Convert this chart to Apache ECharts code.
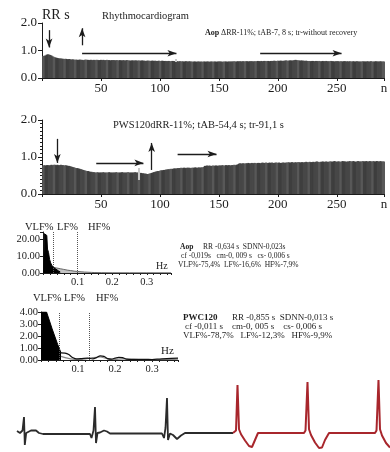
<!DOCTYPE html>
<html>
<head>
<meta charset="utf-8">
<script src="https://cdn.jsdelivr.net/npm/echarts@6/dist/echarts.min.js"></script>
<style>
  html, body { margin: 0; padding: 0; background: #fff; }
  #chart { width: 390px; height: 452px; }
</style>
</head>
<body>
<div id="chart"></div>
<script>
// RR intervals (s) per beat n, Aop test
const rrAop = [
  0.80,0.81,0.82,0.85,0.86,0.85,0.84,0.82,0.79,0.77,
  0.75,0.74,0.73,0.72,0.71,0.71,0.70,0.70,0.69,0.70,
  0.69,0.68,0.69,0.68,0.67,0.68,0.67,0.66,0.67,0.66,
  0.66,0.67,0.66,0.66,0.65,0.66,0.67,0.66,0.66,0.65,
  0.66,0.66,0.65,0.66,0.65,0.66,0.66,0.65,0.65,0.66,
  0.65,0.66,0.65,0.65,0.66,0.65,0.65,0.64,0.65,0.65,
  0.65,0.64,0.65,0.65,0.64,0.65,0.64,0.64,0.65,0.64,
  0.64,0.65,0.64,0.64,0.63,0.64,0.64,0.63,0.64,0.64,
  0.63,0.64,0.63,0.63,0.64,0.63,0.63,0.62,0.63,0.63,
  0.63,0.62,0.63,0.63,0.62,0.63,0.62,0.62,0.63,0.62,
  0.62,0.63,0.62,0.62,0.62,0.61,0.62,0.62,0.61,0.62,
  0.62,0.61,0.61,0.61,0.61,0.60,0.61,0.60,0.61,0.60,
  0.60,0.61,0.60,0.60,0.61,0.60,0.60,0.59,0.60,0.60,
  0.59,0.60,0.60,0.59,0.60,0.59,0.60,0.60,0.59,0.60,
  0.60,0.59,0.60,0.60,0.59,0.60,0.60,0.59,0.60,0.60,
  0.60,0.60,0.59,0.60,0.60,0.60,0.59,0.60,0.60,0.60,
  0.60,0.60,0.61,0.60,0.60,0.61,0.60,0.61,0.60,0.61,
  0.61,0.60,0.61,0.61,0.60,0.61,0.61,0.61,0.60,0.61,
  0.61,0.61,0.62,0.61,0.61,0.62,0.61,0.62,0.62,0.61,
  0.62,0.62,0.61,0.62,0.62,0.62,0.63,0.62,0.62,0.63,
  0.62,0.63,0.63,0.62,0.63,0.63,0.64,0.63,0.63,0.64,
  0.64,0.63,0.64,0.65,0.66,0.65,0.64,0.64,0.63,0.64,
  0.63,0.63,0.62,0.63,0.62,0.62,0.62,0.61,0.62,0.62,
  0.61,0.62,0.62,0.61,0.62,0.61,0.61,0.62,0.61,0.61,
  0.62,0.61,0.61,0.61,0.62,0.61,0.61,0.60,0.61,0.61,
  0.61,0.60,0.61,0.61,0.60,0.61,0.61,0.60,0.61,0.60,
  0.61,0.60,0.60,0.61,0.60,0.60,0.61,0.60,0.60,0.60,
  0.60,0.61,0.60,0.60,0.60,0.61,0.60,0.60,0.61,0.60,
  0.60,0.60,0.61,0.60,0.60,0.60,0.61,0.60,0.60,0.60
];

// RR intervals (s) per beat n, PWS120 test
const rrPws = [
  0.77,0.78,0.77,0.78,0.78,0.77,0.78,0.79,0.78,0.79,
  0.79,0.78,0.79,0.78,0.78,0.79,0.78,0.78,0.77,0.78,
  0.77,0.76,0.76,0.75,0.74,0.73,0.72,0.71,0.70,0.70,
  0.69,0.68,0.67,0.66,0.65,0.64,0.63,0.62,0.62,0.61,
  0.60,0.60,0.59,0.59,0.58,0.58,0.59,0.58,0.58,0.58,
  0.58,0.59,0.58,0.58,0.58,0.58,0.59,0.58,0.58,0.58,
  0.58,0.58,0.59,0.58,0.58,0.58,0.58,0.59,0.58,0.58,
  0.58,0.58,0.59,0.58,0.58,0.58,0.58,0.58,0.59,0.58,
  0.58,0.58,0.57,0.57,0.56,0.56,0.55,0.55,0.54,0.54,
  0.55,0.56,0.57,0.58,0.59,0.60,0.61,0.62,0.62,0.63,
  0.64,0.64,0.65,0.65,0.66,0.66,0.67,0.67,0.68,0.68,
  0.68,0.69,0.69,0.69,0.70,0.70,0.70,0.71,0.70,0.71,
  0.71,0.70,0.71,0.71,0.71,0.70,0.71,0.71,0.71,0.72,
  0.71,0.71,0.72,0.71,0.72,0.72,0.73,0.76,0.76,0.77,
  0.76,0.77,0.76,0.76,0.77,0.76,0.77,0.77,0.76,0.77,
  0.77,0.77,0.78,0.77,0.77,0.78,0.77,0.78,0.78,0.77,
  0.78,0.78,0.79,0.78,0.79,0.80,0.82,0.83,0.82,0.83,
  0.83,0.82,0.83,0.83,0.84,0.83,0.83,0.84,0.83,0.84,
  0.84,0.83,0.84,0.84,0.83,0.84,0.85,0.84,0.84,0.85,
  0.84,0.84,0.85,0.84,0.85,0.84,0.84,0.85,0.85,0.84,
  0.85,0.84,0.84,0.85,0.85,0.84,0.85,0.85,0.86,0.85,
  0.85,0.86,0.85,0.85,0.86,0.85,0.86,0.86,0.85,0.86,
  0.86,0.85,0.86,0.87,0.86,0.86,0.87,0.86,0.86,0.87,
  0.86,0.87,0.88,0.87,0.86,0.87,0.87,0.88,0.87,0.87,
  0.88,0.87,0.87,0.88,0.88,0.87,0.88,0.89,0.88,0.87,
  0.88,0.88,0.87,0.88,0.89,0.88,0.88,0.87,0.88,0.88,
  0.89,0.88,0.88,0.89,0.88,0.87,0.88,0.89,0.88,0.88,
  0.88,0.89,0.88,0.88,0.89,0.88,0.88,0.89,0.88,0.88,
  0.89,0.88,0.88,0.89,0.88,0.88,0.89,0.88,0.88,0.88
];

const rrTicksN = [50, 100, 150, 200, 250];

// Spectrum of the Aop test: [Hz, power]
const specAopVlf = [[0.002,0],[0.004,23],[0.008,24],[0.011,22],[0.013,14],[0.016,12],[0.019,8],[0.022,6],[0.026,4.2],[0.03,3.4],[0.035,2.6],[0.04,2.0],[0.045,1.2],[0.05,0.6]];
const specAopRest = [[0.03,3.3],[0.04,2.9],[0.05,2.5],[0.06,2.1],[0.07,1.7],[0.08,1.4],[0.09,1.1],[0.1,0.9],[0.11,0.7],[0.12,0.55],[0.13,0.45],[0.14,0.35],[0.15,0.25],[0.17,0.18],[0.2,0.12],[0.25,0.1],[0.3,0.1],[0.35,0.1],[0.37,0.1]];
const specAopBands = [0.03, 0.1];

// Spectrum of the PWS120 test: [Hz, power]
const specPwsVlf = [[0,4],[0.015,4],[0.03,2.6],[0.045,1.3],[0.054,0.6]];
const specPwsA = [[0.054,0.6],[0.065,0.58],[0.075,0.45],[0.085,0.2],[0.095,0.1],[0.11,0.12],[0.125,0.15],[0.14,0.1],[0.15,0.2],[0.16,0.35],[0.17,0.3],[0.18,0.12],[0.19,0.08],[0.2,0.15],[0.21,0.22],[0.22,0.2],[0.23,0.08],[0.25,0.05],[0.28,0.05],[0.3,0.04],[0.32,0.08],[0.34,0.12],[0.37,0.15]];
const specPwsB = [[0.054,0.3],[0.065,0.2],[0.08,0.1],[0.1,0.05],[0.12,0.1],[0.14,0.2],[0.16,0.25],[0.18,0.1],[0.2,0.05],[0.22,0.1],[0.25,0.05],[0.3,0.02],[0.35,0.05],[0.37,0.08]];
const specPwsBands = [0.054, 0.13];

// ECG strip: [t s, mV]
const ecgAop = [[0.17,0.08],[0.18,0],[0.2,0],[0.21,-0.06],[0.225,0.1],[0.24,0.64],[0.248,-0.48],[0.262,0],[0.28,0.02],[0.31,0.1],[0.33,0.12],[0.36,0.1],[0.39,0],[0.43,-0.04],[0.9,-0.04],[0.915,-0.2],[0.935,0.1],[0.95,1.04],[0.96,-0.4],[0.975,0],[1.0,0.02],[1.04,0.1],[1.07,0.06],[1.1,-0.02],[1.62,-0.02],[1.64,-0.2],[1.655,0.2],[1.67,1.4],[1.68,-0.28],[1.7,-0.02],[1.73,-0.08],[1.77,-0.24],[1.81,-0.1],[1.85,0],[2.33,0]];
const ecgPws = [[2.33,0],[2.35,0],[2.36,0.1],[2.375,1.92],[2.39,0.15],[2.41,-0.05],[2.45,-0.3],[2.49,-0.52],[2.52,-0.56],[2.55,-0.28],[2.58,0],[3.04,0],[3.055,0.1],[3.075,2.04],[3.09,0.15],[3.11,-0.08],[3.15,-0.38],[3.19,-0.6],[3.22,-0.58],[3.25,-0.28],[3.29,0],[3.75,0],[3.765,0.1],[3.785,2.12],[3.8,0.15],[3.82,-0.1],[3.86,-0.4],[3.9,-0.58]];

const serif = '"Liberation Serif", "DejaVu Serif", serif';
const ink = '#1c1c1c';

const chart = echarts.init(document.getElementById('chart'));

function rrX(gi) {
  return {
    type: 'value', gridIndex: gi, min: 0, max: 290, interval: 50,
    axisLine: { lineStyle: { color: ink, width: 1 } },
    axisTick: { show: true, length: 3, lineStyle: { color: ink } },
    splitLine: { show: false },
    axisLabel: {
      color: ink, fontFamily: serif, fontSize: 13, margin: 4,
      formatter: (v) => (v === 290 ? 'n' : (rrTicksN.indexOf(v) >= 0 ? String(v) : ''))
    }
  };
}
function rrY(gi, minor) {
  return {
    type: 'value', gridIndex: gi, min: 0, max: 2, interval: 1,
    axisLine: { show: true, lineStyle: { color: ink, width: 1 } },
    axisTick: { show: true, length: 4, lineStyle: { color: ink } },
    minorTick: { show: minor, splitNumber: 10, length: 2, lineStyle: { color: ink } },
    splitLine: { show: false },
    axisLabel: { color: ink, fontFamily: serif, fontSize: 13, margin: 5, formatter: (v) => v.toFixed(1) }
  };
}
function specX(gi) {
  return {
    type: 'value', gridIndex: gi, min: 0, max: 0.37, interval: 0.1,
    axisLine: { lineStyle: { color: ink, width: 1 } },
    axisTick: { show: true, length: 2, lineStyle: { color: ink } },
    minorTick: { show: true, splitNumber: 5, length: 2, lineStyle: { color: ink } },
    splitLine: { show: false },
    axisLabel: {
      color: ink, fontFamily: serif, fontSize: 10.5, margin: 4,
      formatter: (v) => (v > 0.05 && Math.abs(v * 10 - Math.round(v * 10)) < 1e-6 ? v.toFixed(1) : '')
    }
  };
}
function specY(gi, max, step) {
  return {
    type: 'value', gridIndex: gi, min: 0, max: max, interval: step,
    axisLine: { show: true, lineStyle: { color: ink, width: 1 } },
    axisTick: { show: true, length: 3, lineStyle: { color: ink } },
    splitLine: { show: false },
    axisLabel: {
      color: ink, fontFamily: serif, fontSize: 10.5, margin: 3,
      formatter: (v) => (Math.abs(v / step - Math.round(v / step)) < 1e-6 ? v.toFixed(2) : '')
    }
  };
}

function arrow(x1, y1, x2, y2) {
  return [{ coord: [x1, y1] }, { coord: [x2, y2] }];
}
const arrowStyle = {
  silent: true, symbol: ['none', 'arrow'], symbolSize: [5, 9],
  label: { show: false }, lineStyle: { color: ink, width: 1.3, type: 'solid' },
  emphasis: { disabled: true }
};

function barColor(p) {
  const k = p.dataIndex % 9;
  return k < 2 ? '#585858' : (k < 5 ? '#3e3e3e' : '#474747');
}

function txt(x, yc, text, size, weight) {
  return {
    type: 'text', x: x, y: yc, silent: true,
    style: {
      text: text, fill: ink, verticalAlign: 'middle', textVerticalAlign: 'middle',
      font: (weight || 'normal') + ' ' + size + 'px ' + serif
    }
  };
}

const option = {
  animation: false,
  backgroundColor: '#fff',
  grid: [
    { left: 42, top: 23, width: 342, height: 55, outerBoundsMode: 'none' },
    { left: 42, top: 120, width: 342, height: 74, outerBoundsMode: 'none' },
    { left: 43, top: 232, width: 128, height: 41, outerBoundsMode: 'none' },
    { left: 41, top: 312, width: 137, height: 48, outerBoundsMode: 'none' },
    { left: 0, top: 378, width: 390, height: 74, outerBoundsMode: 'none' }
  ],
  xAxis: [
    rrX(0), rrX(1), specX(2), specX(3),
    { type: 'value', gridIndex: 4, min: 0, max: 3.9, show: false }
  ],
  yAxis: [
    rrY(0, false), rrY(1, true), specY(2, 24, 10), specY(3, 4, 1),
    { type: 'value', gridIndex: 4, min: -0.76, max: 2.2, show: false }
  ],
  series: [
    {
      type: 'bar', xAxisIndex: 0, yAxisIndex: 0, barWidth: 2,
      data: rrAop.map((v, i) => [i + 1, v]),
      itemStyle: { color: barColor },
      markLine: Object.assign({}, arrowStyle, {
        data: [arrow(6, 1.74, 6, 1.11), arrow(34, 1.19, 34, 1.81), arrow(34, 0.9, 114, 0.9), arrow(185, 0.9, 254, 0.9)]
      })
    },
    {
      type: 'bar', xAxisIndex: 1, yAxisIndex: 1, barWidth: 2,
      data: rrPws.map((v, i) => [i + 1, v]),
      itemStyle: { color: barColor },
      markLine: Object.assign({}, arrowStyle, {
        data: [arrow(13, 1.49, 13, 0.84), arrow(46, 0.84, 86, 0.84), arrow(93, 0.65, 93, 1.38), arrow(115, 1.08, 148, 1.08)]
      })
    },
    {
      type: 'line', xAxisIndex: 0, yAxisIndex: 0, data: [],
      markLine: { silent: true, symbol: 'none', label: { show: false }, lineStyle: { color: '#c8c8c8', width: 2, type: 'solid' },
        data: [arrow(113, 0.58, 113, 0.69)] }
    },
    {
      type: 'line', xAxisIndex: 1, yAxisIndex: 1, data: [],
      markLine: { silent: true, symbol: 'none', label: { show: false }, lineStyle: { color: '#c8c8c8', width: 2, type: 'solid' },
        data: [arrow(82, 0.38, 82, 0.7)] }
    },
    {
      type: 'line', xAxisIndex: 2, yAxisIndex: 2, data: specAopRest, symbol: 'none',
      lineStyle: { color: '#666', width: 1 }, areaStyle: { color: '#c4c4c4', opacity: 1 },
      markLine: { silent: true, symbol: 'none', label: { show: false }, lineStyle: { color: '#555', width: 1, type: 'dotted' },
        data: specAopBands.map((b) => ({ xAxis: b })) }
    },
    {
      type: 'line', xAxisIndex: 2, yAxisIndex: 2, data: specAopVlf, symbol: 'none',
      lineStyle: { color: '#000', width: 1 }, areaStyle: { color: '#000', opacity: 1 }
    },
    {
      type: 'line', xAxisIndex: 3, yAxisIndex: 3, data: specPwsVlf, symbol: 'none',
      lineStyle: { color: '#000', width: 1 }, areaStyle: { color: '#000', opacity: 1 },
      markLine: { silent: true, symbol: 'none', label: { show: false }, lineStyle: { color: '#555', width: 1, type: 'dotted' },
        data: specPwsBands.map((b) => ({ xAxis: b })) }
    },
    {
      type: 'line', xAxisIndex: 3, yAxisIndex: 3, data: specPwsB, symbol: 'none', smooth: 0.3,
      lineStyle: { color: '#888', width: 1.2 }
    },
    {
      type: 'line', xAxisIndex: 3, yAxisIndex: 3, data: specPwsA, symbol: 'none', smooth: 0.3,
      lineStyle: { color: '#111', width: 1.2 }
    },
    {
      type: 'line', xAxisIndex: 4, yAxisIndex: 4, data: ecgAop, symbol: 'none',
      lineStyle: { color: '#2b2b2b', width: 1.8 }
    },
    {
      type: 'line', xAxisIndex: 4, yAxisIndex: 4, data: ecgPws, symbol: 'none',
      lineStyle: { color: '#a8262c', width: 2 }
    }
  ],
  graphic: [
    txt(42, 15, 'RR s', 14),
    txt(102, 16, 'Rhythmocardiogram', 10.5),
    txt(205, 33, 'Aop', 8, 'bold'),
    txt(221, 33, '\u0394RR-11%; tAB-7, 8 s; tr-without recovery', 8),
    txt(113, 125, 'PWS120dRR-11%; tAB-54,4 s; tr-91,1 s', 10.5),
    txt(25, 227, 'VLF%', 10.5), txt(57, 227, 'LF%', 10.5), txt(88, 227, 'HF%', 10.5),
    txt(33, 298, 'VLF%', 10.5), txt(64, 298, 'LF%', 10.5), txt(96, 298, 'HF%', 10.5),
    txt(156, 266, 'Hz', 10),
    txt(161, 351, 'Hz', 11),
    txt(180, 247, 'Aop', 7.5, 'bold'),
    txt(203, 247, 'RR -0,634 s  SDNN-0,023s', 7.5),
    txt(181, 256, 'cf -0,019s   cm-0, 009 s   cs- 0,006 s', 7.5),
    txt(178, 265, 'VLF%-75,4%  LF%-16,6%  HF%-7,9%', 7.5),
    txt(183, 318, 'PWC120', 9, 'bold'),
    txt(232, 318, 'RR -0,855 s  SDNN-0,013 s', 9),
    txt(185, 327, 'cf -0,011 s    cm-0, 005 s    cs- 0,006 s', 9),
    txt(183, 336, 'VLF%-78,7%   LF%-12,3%   HF%-9,9%', 9)
  ]
};

chart.setOption(option);
</script>
</body>
</html>
